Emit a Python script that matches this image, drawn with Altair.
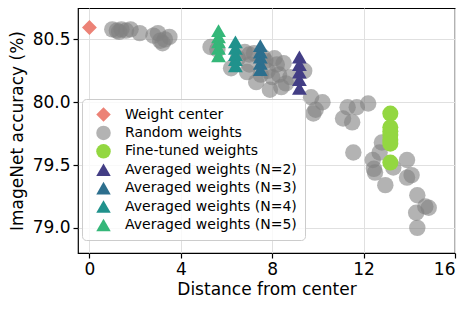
import altair as alt
import pandas as pd

series_names = ["Weight center", "Random weights", "Fine-tuned weights",
                "Averaged weights (N=2)", "Averaged weights (N=3)",
                "Averaged weights (N=4)", "Averaged weights (N=5)"]
series_colors = ["#ec8276", "rgba(128,128,128,0.6)", "#93d741",
                 "#433e85", "#2d6f8e", "#20928c", "#35b779"]
series_shapes = ["diamond", "circle", "circle",
                 "triangle-up", "triangle-up", "triangle-up", "triangle-up"]

center_x = [0.0]
center_y = [80.595]

random_x = [1.0, 1.2, 1.4, 1.6, 1.8, 1.3, 2.2, 2.8, 3.0, 3.1, 3.3, 3.5, 3.2,
            5.3, 5.6, 6.2, 6.5, 6.8, 7.0, 7.2, 7.0, 7.3, 7.5, 7.7, 7.8, 7.9,
            8.0, 8.2, 8.3, 8.5, 8.6, 8.8, 8.4, 6.9, 7.6, 8.1, 9.4, 9.7, 9.9,
            9.8, 10.2,
            11.3, 11.7, 12.2, 11.1, 11.5, 11.55, 12.8, 12.7, 12.4, 12.5,
            12.45, 12.95, 13.3, 13.9, 13.9, 14.1, 14.35, 14.7, 14.85, 14.3,
            14.35]
random_y = [80.58, 80.57, 80.58, 80.57, 80.58, 80.56, 80.55, 80.53, 80.55,
            80.49, 80.50, 80.52, 80.47,
            80.44, 80.42, 80.27, 80.35, 80.40, 80.38, 80.39, 80.30, 80.16,
            80.22, 80.33, 80.25, 80.10, 80.20, 80.30, 80.22, 80.31, 80.15,
            80.20, 80.12, 80.24, 80.36, 80.35, 80.25, 80.04, 79.94, 79.91,
            80.00,
            79.96, 79.96, 79.99, 79.87, 79.84, 79.60, 79.68, 79.60, 79.54,
            79.44, 79.47, 79.34, 79.48, 79.54, 79.40, 79.42, 79.26, 79.17,
            79.16, 79.12, 79.00]

finetuned_x = [13.17, 13.17, 13.17, 13.17, 13.17, 13.17, 13.17]
finetuned_y = [79.91, 79.80, 79.77, 79.74, 79.70, 79.67, 79.52]

avg2_x = [9.19] * 5
avg2_y = [80.36, 80.30, 80.24, 80.18, 80.11]
avg3_x = [7.48] * 5
avg3_y = [80.45, 80.40, 80.36, 80.31, 80.26]
avg4_x = [6.39] * 5
avg4_y = [80.48, 80.43, 80.38, 80.34, 80.29]
avg5_x = [5.65] * 5
avg5_y = [80.57, 80.52, 80.48, 80.43, 80.37]


def frame(xs, ys, name):
    return pd.DataFrame({"x": xs, "y": ys, "series": [name] * len(xs)})


df_random = frame(random_x, random_y, series_names[1])
df_fine = frame(finetuned_x, finetuned_y, series_names[2])
df_avg = pd.concat([
    frame(avg2_x, avg2_y, series_names[3]),
    frame(avg3_x, avg3_y, series_names[4]),
    frame(avg4_x, avg4_y, series_names[5]),
    frame(avg5_x, avg5_y, series_names[6]),
])
df_center = frame(center_x, center_y, series_names[0])

xenc = alt.X("x:Q", scale=alt.Scale(domain=[-0.5, 16], nice=False, zero=False),
             axis=alt.Axis(values=[0, 4, 8, 12, 16], title="Distance from center"))
yenc = alt.Y("y:Q", scale=alt.Scale(domain=[78.8, 80.75], nice=False, zero=False),
             axis=alt.Axis(values=[79.0, 79.5, 80.0, 80.5], format=".1f",
                           title="ImageNet accuracy (%)"))
color = alt.Color("series:N",
                  scale=alt.Scale(domain=series_names, range=series_colors),
                  legend=alt.Legend(title=None, orient="none", legendX=4, legendY=91,
                                    symbolSize=210, labelFontSize=14, labelLimit=0,
                                    labelFont="DejaVu Sans", rowPadding=3.4,
                                    padding=8, symbolOffset=6, labelOffset=14,
                                    strokeColor="#cccccc", cornerRadius=4,
                                    fillColor="rgba(255,255,255,0.8)",
                                    symbolStrokeWidth=0, symbolOpacity=1))
shape = alt.Shape("series:N",
                  scale=alt.Scale(domain=series_names, range=series_shapes))

l_random = alt.Chart(df_random).mark_point(filled=True, size=270, opacity=1).encode(
    x=xenc, y=yenc, color=color, shape=shape)
l_fine = alt.Chart(df_fine).mark_point(filled=True, size=256, opacity=1).encode(
    x=xenc, y=yenc, color=color, shape=shape)
l_avg = alt.Chart(df_avg).mark_point(filled=True, size=220, opacity=1).encode(
    x=xenc, y=yenc, color=color, shape=shape)
l_center = alt.Chart(df_center).mark_point(filled=True, size=220, opacity=1).encode(
    x=xenc, y=yenc, color=color, shape=shape)

chart = alt.layer(l_random, l_fine, l_avg, l_center).properties(
    width=377, height=245,
    padding={"left": 0, "top": 0, "right": 5, "bottom": 5},
).configure_view(stroke="black", strokeWidth=1.2).configure_axis(
    labelFont="DejaVu Sans", titleFont="DejaVu Sans",
    labelFontSize=17, titleFontSize=17, labelColor="black", titleColor="black",
    titleFontWeight="normal", gridColor="#e0e0e0", gridWidth=1,
    domain=False, tickColor="black", tickSize=5, tickWidth=1.2, labelPadding=3,
).configure_axisY(titlePadding=6).configure_axisX(titlePadding=4)

chart.save("out.html", embed_options={"renderer": "svg", "actions": False})
